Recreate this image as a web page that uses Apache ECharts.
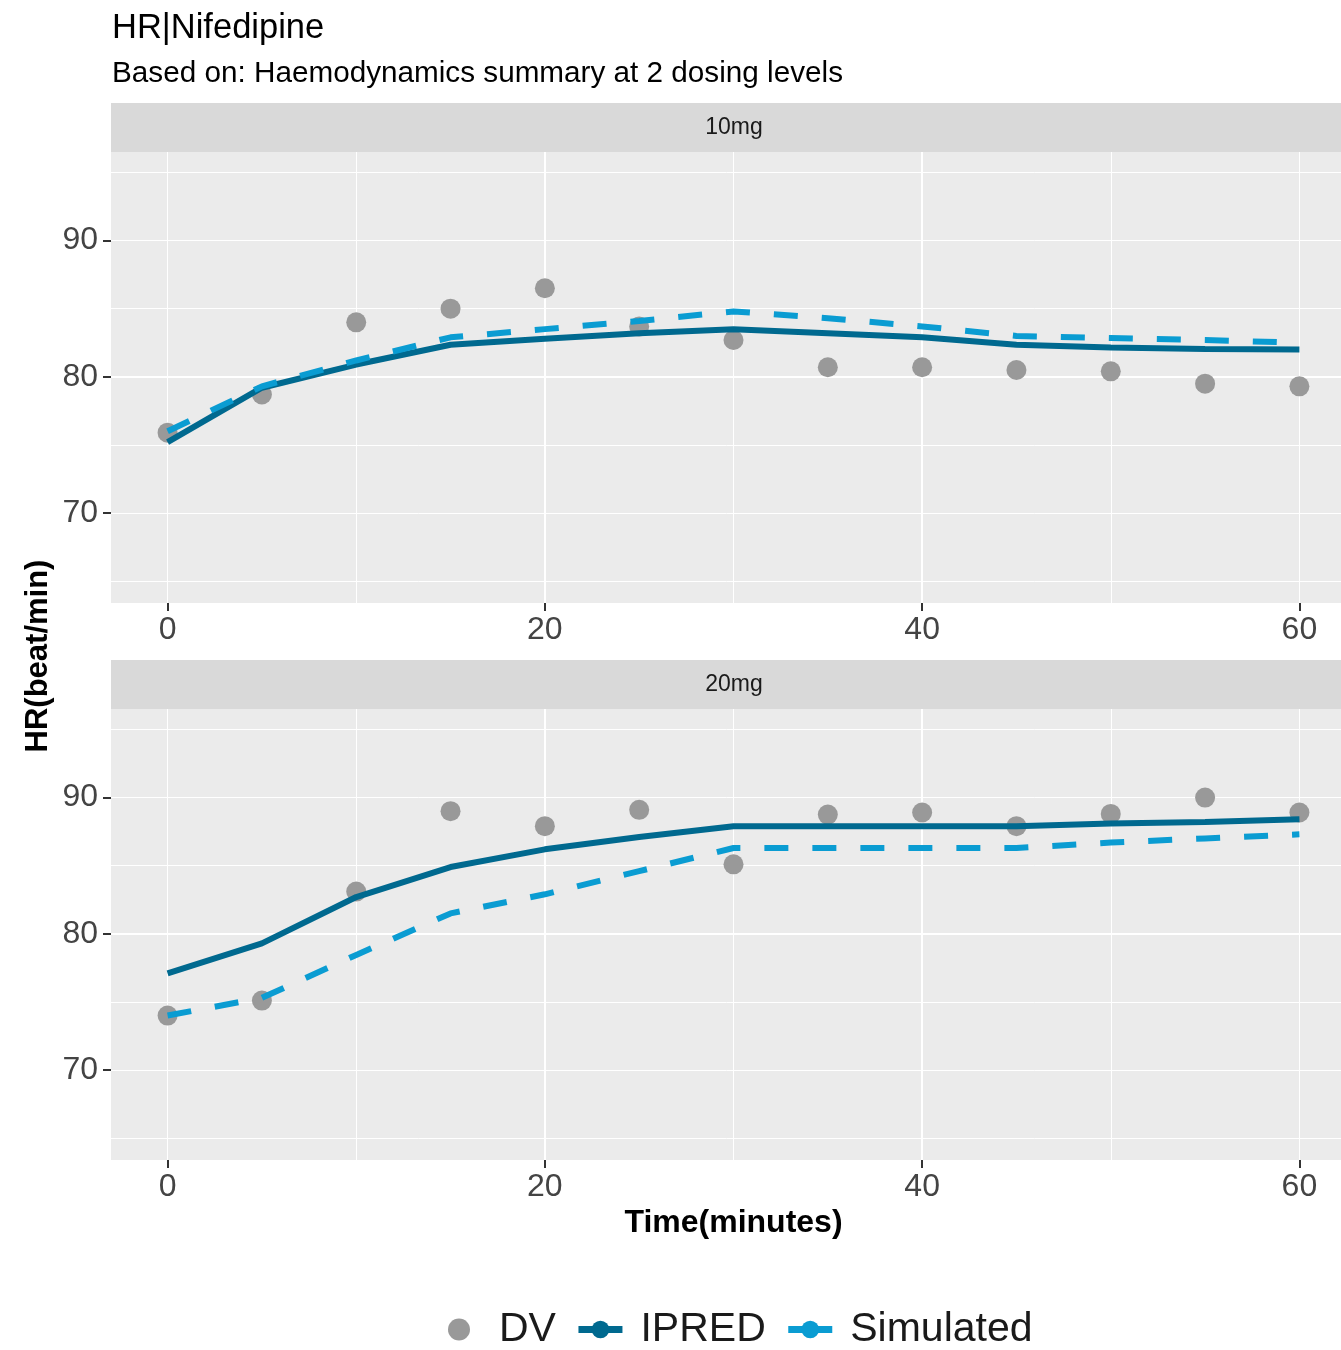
<!DOCTYPE html>
<html>
<head>
<meta charset="utf-8">
<script src="https://cdn.jsdelivr.net/npm/echarts@6/dist/echarts.min.js"></script>
<style>html,body{margin:0;padding:0;background:#fff}#c{width:1341px;height:1350px}</style>
</head>
<body>
<div id="c"></div>
<script>
const times = [0, 5, 10, 15, 20, 25, 30, 35, 40, 45, 50, 55, 60];
const panels = ['10mg', '20mg'];
const dv10 = [75.9, 78.7, 84.0, 85.0, 86.5, 83.7, 82.7, 80.7, 80.7, 80.5, 80.4, 79.5, 79.3];
const ipred10 = [75.2, 79.2, 80.9, 82.35, 82.8, 83.2, 83.5, 83.2, 82.9, 82.35, 82.15, 82.05, 82.0];
const sim10 = [76.0, 79.3, 81.2, 82.9, 83.5, 84.1, 84.8, 84.3, 83.7, 83.0, 82.85, 82.7, 82.5];
const dv20 = [74.0, 75.1, 83.1, 89.0, 87.9, 89.1, 85.1, 88.75, 88.9, 87.9, 88.8, 90.0, 88.9];
const ipred20 = [77.1, 79.3, 82.7, 84.9, 86.2, 87.1, 87.9, 87.9, 87.9, 87.9, 88.1, 88.2, 88.4];
const sim20 = [74.0, 75.3, 78.45, 81.5, 82.9, 84.6, 86.3, 86.3, 86.3, 86.3, 86.7, 87.0, 87.3];
const xTicks = [0, 20, 40, 60];
const yTicks = [70, 80, 90];
const xRange = [-3, 63];
const yRange = [63.4, 96.5];

const FONT = '"Liberation Sans", Arial, sans-serif';
const C_DV = '#999999', C_IP = '#00698F', C_SIM = '#0A9CD2';
const pair = (a) => times.map((t, i) => [t, a[i]]);

const gridTops = [152, 709];
const grids = gridTops.map(t => ({
  left: 111, top: t, width: 1245, height: 451,
  outerBoundsMode: 'none', containLabel: false,
  show: true, backgroundColor: '#EBEBEB', borderWidth: 0
}));

const xAxes = [], yAxes = [];
gridTops.forEach((t, g) => {
  xAxes.push({
    type: 'value', gridIndex: g, min: xRange[0], max: xRange[1], splitNumber: 3, position: 'bottom',
    axisLine: { show: false, onZero: false },
    axisTick: { show: true, length: 8, lineStyle: { color: '#333', width: 2 }, customValues: xTicks },
    axisLabel: { fontSize: 32, color: '#444', fontFamily: FONT, margin: 11, customValues: xTicks,
      formatter: v => (v % 20 === 0 ? String(v) : '') },
    splitLine: { show: true, showMinLine: false, showMaxLine: false, lineStyle: { color: '#FFFFFF', width: 2 } },
    name: g === 1 ? 'Time(minutes)' : '',
    nameLocation: 'middle', nameGap: 47,
    nameTextStyle: { fontSize: 32, fontWeight: 'bold', color: '#000', fontFamily: FONT },
    z: 2
  });
  xAxes.push({
    type: 'value', gridIndex: g, min: xRange[0], max: xRange[1], splitNumber: 6, position: 'bottom',
    axisLine: { show: false, onZero: false }, axisTick: { show: false }, axisLabel: { show: false },
    splitLine: { show: true, showMinLine: false, showMaxLine: false, lineStyle: { color: '#FFFFFF', width: 1 } },
    z: 1
  });
  yAxes.push({
    type: 'value', gridIndex: g, min: yRange[0], max: yRange[1], splitNumber: 3, position: 'left',
    axisLine: { show: false, onZero: false },
    axisTick: { show: true, length: 8, lineStyle: { color: '#333', width: 2 }, customValues: yTicks },
    axisLabel: { fontSize: 32, color: '#444', fontFamily: FONT, margin: 13, customValues: yTicks,
      formatter: v => (v % 10 === 0 ? String(v) : '') },
    splitLine: { show: true, showMinLine: false, showMaxLine: false, lineStyle: { color: '#FFFFFF', width: 2 } },
    z: 2
  });
  yAxes.push({
    type: 'value', gridIndex: g, min: yRange[0], max: yRange[1], splitNumber: 6, position: 'left',
    axisLine: { show: false, onZero: false }, axisTick: { show: false }, axisLabel: { show: false },
    splitLine: { show: true, showMinLine: false, showMaxLine: false, lineStyle: { color: '#FFFFFF', width: 1 } },
    z: 1
  });
});

const sets = [[dv10, ipred10, sim10], [dv20, ipred20, sim20]];
const series = [];
sets.forEach((s, g) => {
  const ax = g * 2;
  series.push({
    name: 'DV', type: 'scatter', xAxisIndex: ax, yAxisIndex: ax, data: pair(s[0]),
    symbol: 'circle', symbolSize: 20, itemStyle: { color: C_DV, opacity: 1 }, z: 3
  });
  series.push({
    name: 'IPRED', type: 'line', xAxisIndex: ax, yAxisIndex: ax, data: pair(s[1]),
    symbol: 'circle', symbolSize: 14, showSymbol: false,
    lineStyle: { color: C_IP, width: 6 }, itemStyle: { color: C_IP }, z: 4
  });
  series.push({
    name: 'Simulated', type: 'line', xAxisIndex: ax, yAxisIndex: ax, data: pair(s[2]),
    symbol: 'circle', symbolSize: 14, showSymbol: false,
    lineStyle: { color: C_SIM, width: 6, type: [24, 24] }, itemStyle: { color: C_SIM }, z: 5
  });
});

const graphic = [];
gridTops.forEach((t, g) => {
  graphic.push({ type: 'rect', left: 111, top: t - 49, shape: { width: 1245, height: 49 },
    style: { fill: '#D9D9D9' }, silent: true });
  graphic.push({ type: 'text', x: 734, y: t - 24.5,
    style: { text: panels[g], fill: '#1A1A1A', fontSize: 23, fontFamily: FONT, align: 'center', verticalAlign: 'middle' } });
});
graphic.push({ type: 'text', x: 38, y: 656, rotation: Math.PI / 2,
  style: { text: 'HR(beat/min)', fill: '#000', fontSize: 31, fontWeight: 'bold', fontFamily: FONT, align: 'center', verticalAlign: 'middle' } });

const chart = echarts.init(document.getElementById('c'), null, { renderer: 'canvas' });
chart.setOption({
  animation: false,
  backgroundColor: '#FFFFFF',
  title: [
    { text: 'HR|Nifedipine', left: 112, top: 11, padding: 0, textStyle: { fontSize: 34.5, fontWeight: 'normal', color: '#000', fontFamily: FONT } },
    { text: 'Based on: Haemodynamics summary at 2 dosing levels', left: 112, top: 59, padding: 0, textStyle: { fontSize: 29.7, fontWeight: 'normal', color: '#000', fontFamily: FONT } }
  ],
  grid: grids,
  xAxis: xAxes,
  yAxis: yAxes,
  legend: {
    left: 443, top: 1304, itemWidth: 44, itemHeight: 22, itemGap: 19,
    textStyle: { fontSize: 41, color: '#1A1A1A', fontFamily: FONT, padding: [0, 0, 0, 13] },
    data: [
      { name: 'DV', icon: 'circle', itemStyle: { opacity: 1 } },
      { name: 'IPRED', lineStyle: { width: 7 } },
      { name: 'Simulated', lineStyle: { type: 'solid', width: 7 } }
    ]
  },
  graphic: graphic,
  series: series
});
</script>
</body>
</html>
